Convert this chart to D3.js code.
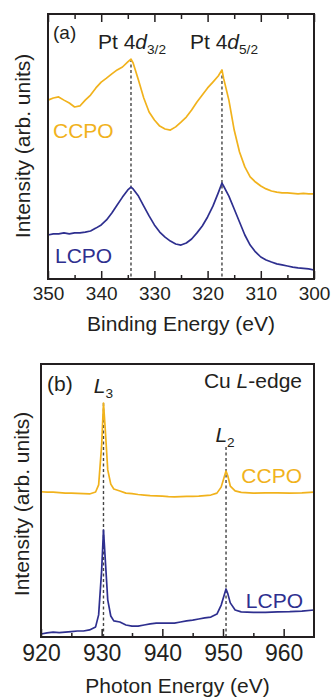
<!DOCTYPE html>
<html>
<head>
<meta charset="utf-8">
<script src="https://cdn.jsdelivr.net/npm/d3@7"></script>
<style>
  body { margin: 0; background: #fff; }
  svg text { font-family: "Liberation Sans", Arial, Helvetica, sans-serif; }
</style>
</head>
<body>
<div id="chart"></div>
<script>
var svgWidth = 333;
var svgHeight = 700;

// (a) Pt 4d XPS
var xpsEnergy = [350,349,348,347,346,345,344,343,342,341,340,339,338,337,336,335,334.4,334,
  333,332,331,330,329,328,327,326,325,324,323,322,321,320,319,318,317.3,317,
  316,315,314,313,312,311,310,309,308,307,306,305,304,303,302,301,300];
var ccpoXps = [67.5,68.3,68.7,67.5,66.4,64.9,65.3,67.5,69.4,72.1,74.3,75.8,77.4,78.9,80.0,81.9,83.0,81.5,
  75.1,68.3,63.0,60.0,57.7,56.6,56.2,57.4,59.2,61.1,63.8,66.8,69.4,72.1,74.3,76.6,78.9,75.8,
  67.5,56.2,47.9,42.3,38.5,36.6,35.1,34.0,33.2,32.8,32.5,32.5,32.3,32.1,32.3,32.1,32.1];
var lcpoXps = [16.6,17.0,17.0,17.4,17.0,17.4,17.4,17.7,18.1,19.2,20.4,22.3,24.9,27.9,30.9,33.6,34.7,34.0,
  31.3,27.5,23.8,20.4,17.7,15.8,14.3,13.2,12.8,13.6,15.1,17.4,20.0,23.4,27.5,32.5,36.2,35.1,
  31.3,26.4,21.5,16.6,12.8,10.2,8.3,7.2,6.4,5.7,5.3,4.9,4.5,4.2,4.0,3.8,3.4];
var xpsTicks = [350,340,330,320,310,300];
var xpsMinorTicks = [345,335,325,315,305];
var xpsPeaks = [334.4, 317.3];
var xpsPeakTops = [83.0, 78.9];

// (b) Cu L-edge XAS
var xasEnergy = [920,921,922,923,924,925,926,927,928,929,929.5,930,930.3,930.6,931,931.5,
  932,933,934,935,936,937,938,939,940,941,942,943,944,945,946,947,948,949,
  949.7,950.2,950.5,950.8,951.2,952,953,955,957,959,961,963,965];
var ccpoXas = [53.2,53.1,53.1,52.9,52.7,52.7,52.6,52.5,52.4,53.1,55.7,70.3,85.7,75.8,61.2,56.0,
  54.2,53.5,52.7,52.5,52.2,52.0,51.8,51.7,51.6,51.4,51.3,51.4,51.5,51.5,51.6,51.8,52.0,52.7,
  54.9,58.6,60.8,59.0,55.3,53.5,53.0,52.7,52.8,52.8,52.7,52.8,53.1];
var lcpoXas = [1.1,1.5,1.8,1.6,1.8,2.0,2.2,2.2,2.6,3.7,8.1,24.5,39.2,28.2,13.6,7.7,
  5.9,5.5,4.4,4.0,4.0,4.4,4.8,5.1,5.1,5.1,5.1,5.5,5.9,6.2,6.6,7.0,7.3,8.4,
  11.7,15.4,17.6,15.8,12.5,9.9,9.2,9.0,9.0,9.2,9.3,9.5,9.9];
var xasTicks = [920,930,940,950,960];
var xasMinorTicks = [925,935,945,955];
var xasPeaks = [930.3, 950.5];
var xasPeakTops = [85.7, 69.6];

var yellow = "#f1b21c";
var navy = "#2e2f8f";
var ink = "#231f20";

var svg = d3.select("#chart")
  .append("svg")
  .attr("width", svgWidth)
  .attr("height", svgHeight);

function drawPanel(p) {
  var x = d3.scaleLinear().domain(p.xDomain).range([p.left, p.right]);
  var y = d3.scaleLinear().domain([0, 100]).range([p.bottom, p.top]);
  var g = svg.append("g");

  var line = d3.line()
    .x(function(d) { return x(d[0]); })
    .y(function(d) { return y(d[1]); });

  // dashed peak markers
  g.selectAll(".peak")
    .data(p.peaks)
    .enter()
    .append("line")
    .attr("x1", function(d) { return x(d); })
    .attr("x2", function(d) { return x(d); })
    .attr("y1", function(d, i) { return y(p.peakTops[i]); })
    .attr("y2", p.bottom)
    .attr("stroke", "#444")
    .attr("stroke-width", 1.4)
    .attr("stroke-dasharray", "3,2.5");

  p.series.forEach(function(s) {
    g.append("path")
      .datum(d3.zip(p.energy, s.values))
      .attr("fill", "none")
      .attr("stroke", s.color)
      .attr("stroke-width", 1.7)
      .attr("stroke-linejoin", "round")
      .attr("d", line);
  });

  // bottom axis, ticks pointing inward
  var bottomAxis = d3.axisBottom(x).tickValues(p.ticks).tickSize(-8).tickPadding(8);
  var axisG = g.append("g")
    .attr("transform", `translate(0, ${p.bottom})`)
    .call(bottomAxis);
  axisG.select(".domain").remove();
  axisG.selectAll("text")
    .attr("fill", ink)
    .style("font-size", p.tickFont + "px")
    .style("font-family", '"Liberation Sans", Arial, sans-serif');
  axisG.selectAll("line").attr("stroke", ink).attr("stroke-width", 1.5);

  var minorG = g.append("g")
    .attr("transform", `translate(0, ${p.bottom})`)
    .call(d3.axisBottom(x).tickValues(p.minorTicks).tickSize(-4).tickFormat(""));
  minorG.select(".domain").remove();
  minorG.selectAll("line").attr("stroke", ink).attr("stroke-width", 1.5);

  if (p.topTicks) {
    var topG = g.append("g")
      .attr("transform", `translate(0, ${p.top})`)
      .call(d3.axisTop(x).tickValues(p.ticks).tickSize(-8).tickFormat(""));
    topG.select(".domain").remove();
    topG.selectAll("line").attr("stroke", ink).attr("stroke-width", 1.5);
    var topMinor = g.append("g")
      .attr("transform", `translate(0, ${p.top})`)
      .call(d3.axisTop(x).tickValues(p.minorTicks).tickSize(-5).tickFormat(""));
    topMinor.select(".domain").remove();
    topMinor.selectAll("line").attr("stroke", ink).attr("stroke-width", 1.5);
  }

  g.append("rect")
    .attr("x", p.left)
    .attr("y", p.top)
    .attr("width", p.right - p.left)
    .attr("height", p.bottom - p.top)
    .attr("fill", "none")
    .attr("stroke", ink)
    .attr("stroke-width", 2);

  g.append("text")
    .attr("x", (p.left + p.right) / 2)
    .attr("y", p.xTitleY)
    .attr("text-anchor", "middle")
    .attr("fill", ink)
    .style("font-size", "21px")
    .text(p.xTitle);

  g.append("text")
    .attr("transform", `translate(${p.yTitleX}, ${p.yTitleY}) rotate(-90)`)
    .attr("text-anchor", "middle")
    .attr("fill", ink)
    .style("font-size", "21px")
    .text("Intensity (arb. units)");

  return {x: x, y: y, g: g};
}

var a = drawPanel({
  left: 48, right: 314, top: 14, bottom: 279,
  xDomain: [350, 300], energy: xpsEnergy,
  series: [{values: ccpoXps, color: yellow}, {values: lcpoXps, color: navy}],
  ticks: xpsTicks, minorTicks: xpsMinorTicks, topTicks: true, tickFont: 19,
  peaks: xpsPeaks, peakTops: xpsPeakTops,
  xTitle: "Binding Energy (eV)", xTitleY: 331, yTitleX: 30, yTitleY: 146
});

var b = drawPanel({
  left: 41, right: 314, top: 364, bottom: 637,
  xDomain: [920, 965], energy: xasEnergy,
  series: [{values: ccpoXas, color: yellow}, {values: lcpoXas, color: navy}],
  ticks: xasTicks, minorTicks: xasMinorTicks, topTicks: false, tickFont: 23,
  peaks: xasPeaks, peakTops: xasPeakTops,
  xTitle: "Photon Energy (eV)", xTitleY: 693, yTitleX: 29, yTitleY: 504
});

function label(g, x, yPos, anchor, size, color, parts) {
  var t = g.append("text")
    .attr("x", x)
    .attr("y", yPos)
    .attr("text-anchor", anchor)
    .attr("fill", color)
    .style("font-size", size + "px");
  parts.forEach(function(part) {
    var ts = t.append("tspan").text(part.text);
    if (part.italic) ts.style("font-style", "italic");
    if (part.sub) ts.style("font-size", (size * 0.65) + "px").attr("dy", part.sub);
    if (part.up) ts.attr("dy", part.up);
  });
  return t;
}

// panel (a) annotations
label(a.g, 53, 39, "start", 19, ink, [{text: "(a)"}]);
label(a.g, a.x(xpsPeaks[0]) + 1, 49, "middle", 21, ink,
  [{text: "Pt 4"}, {text: "d", italic: true}, {text: "3/2", sub: 5}]);
label(a.g, a.x(xpsPeaks[1]) + 2, 49, "middle", 21, ink,
  [{text: "Pt 4"}, {text: "d", italic: true}, {text: "5/2", sub: 5}]);
label(a.g, 53, 138, "start", 21, yellow, [{text: "CCPO"}]);
label(a.g, 55, 263, "start", 21, navy, [{text: "LCPO"}]);

// panel (b) annotations
label(b.g, 47, 391, "start", 21, ink, [{text: "(b)"}]);
label(b.g, b.x(xasPeaks[0]), 393, "middle", 21, ink,
  [{text: "L", italic: true}, {text: "3", sub: 5}]);
label(b.g, b.x(xasPeaks[1]) - 1, 442, "middle", 21, ink,
  [{text: "L", italic: true}, {text: "2", sub: 5}]);
label(b.g, 302, 388, "end", 21, ink,
  [{text: "Cu "}, {text: "L", italic: true}, {text: "-edge"}]);
label(b.g, 302, 483, "end", 21, yellow, [{text: "CCPO"}]);
label(b.g, 303, 608, "end", 21, navy, [{text: "LCPO"}]);
</script>
</body>
</html>
